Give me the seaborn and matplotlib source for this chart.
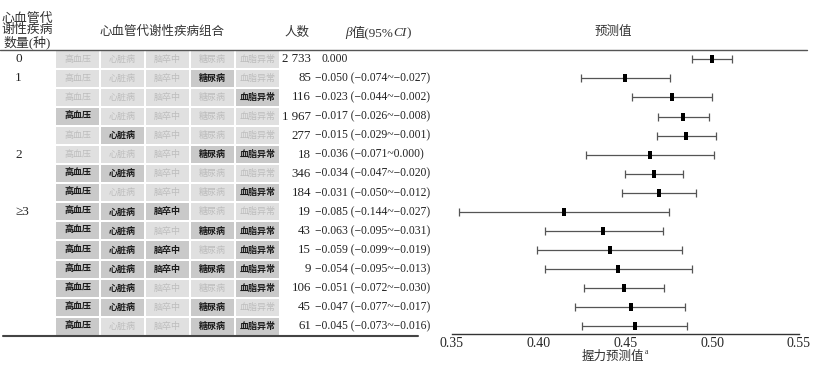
import numpy as np
import pandas as pd
import matplotlib
matplotlib.use("Agg")
import matplotlib.pyplot as plt
import seaborn as sns
from matplotlib.colors import ListedColormap
from matplotlib.lines import Line2D
from matplotlib.path import Path
from matplotlib.transforms import blended_transform_factory

sns.set_style("white")
plt.rcParams['font.family'] = ['Liberation Serif', 'Noto Sans CJK SC', 'DejaVu Sans']
plt.rcParams['axes.unicode_minus'] = True

# --- 数据 ---
diseases = ['高血压', '心脏病', '脑卒中', '糖尿病', '血脂异常']
group_labels = {0: '0', 1: '1', 5: '2', 8: '≥3'}
combos = [
    [0, 0, 0, 0, 0],
    [0, 0, 0, 1, 0],
    [0, 0, 0, 0, 1],
    [1, 0, 0, 0, 0],
    [0, 1, 0, 0, 0],
    [0, 0, 0, 1, 1],
    [1, 1, 0, 0, 0],
    [1, 0, 0, 0, 1],
    [1, 1, 1, 0, 0],
    [1, 1, 0, 1, 1],
    [1, 1, 1, 0, 1],
    [1, 1, 1, 1, 1],
    [1, 1, 0, 0, 1],
    [1, 1, 0, 1, 0],
    [1, 0, 0, 1, 1],
]
counts = [2733, 85, 116, 1967, 277, 18, 346, 184, 19, 43, 15, 9, 106, 45, 61]
beta = [0.000, -0.050, -0.023, -0.017, -0.015, -0.036, -0.034, -0.031,
        -0.085, -0.063, -0.059, -0.054, -0.051, -0.047, -0.045]
beta_low = [None, -0.074, -0.044, -0.026, -0.029, -0.071, -0.047, -0.050,
            -0.144, -0.095, -0.099, -0.095, -0.072, -0.077, -0.073]
beta_high = [None, -0.027, -0.002, -0.008, -0.001, 0.000, -0.020, -0.012,
             -0.027, -0.031, -0.019, -0.013, -0.030, -0.017, -0.016]
pred = [0.500, 0.450, 0.477, 0.4835, 0.4852, 0.4644, 0.4665, 0.4694,
        0.4146, 0.4373, 0.441, 0.446, 0.4494, 0.4531, 0.4554]
pred_low = [0.4885, 0.4243, 0.454, 0.469, 0.468, 0.4276, 0.450, 0.448,
            0.3544, 0.4035, 0.3994, 0.4035, 0.4262, 0.421, 0.4252]
pred_high = [0.5115, 0.4755, 0.500, 0.498, 0.5023, 0.5012, 0.4833, 0.4908,
             0.4752, 0.4719, 0.4827, 0.4885, 0.4724, 0.4845, 0.4857]
xticks = [0.35, 0.40, 0.45, 0.50, 0.55]

W, H = 822, 366
n_rows = len(counts)
row_top, row_bot = 49.8, 335.8


def fx(px):
    return px / W


def fy(py):
    return 1 - py / H


def fmt_num(v):
    return f"{v:.3f}".replace('-', '−')


def fmt_count(c):
    return f"{c:,}".replace(',', ' ')


fig = plt.figure(figsize=(W / 100, H / 100), dpi=100)

# --- 疾病组合表格 (heatmap) ---
ax_hm = fig.add_axes([fx(55), fy(row_bot), fx(225), (row_bot - row_top) / H])
combo_df = pd.DataFrame(combos, columns=diseases)
sns.heatmap(combo_df, ax=ax_hm, cmap=ListedColormap(['#e0e0e0', '#c9c9c9']),
            vmin=0, vmax=1, cbar=False, linewidths=1.2, linecolor='white',
            xticklabels=False, yticklabels=False)
for i, row in enumerate(combos):
    for j, on in enumerate(row):
        ax_hm.text(j + 0.5, i + 0.5, diseases[j], ha='center', va='center',
                   fontsize=6.5, color='#1a1a1a' if on else '#bdbdbd',
                   fontweight='bold' if on else 'normal')

# 文字列: x 用图坐标, y 用表格行坐标
tr = blended_transform_factory(fig.transFigure, ax_hm.transData)
for i in range(n_rows):
    if i in group_labels:
        fig.text(fx(15), i + 0.5, group_labels[i], transform=tr,
                 ha='left', va='center', fontsize=9.5, color='#222')
    fig.text(fx(311), i + 0.5, fmt_count(counts[i]), transform=tr,
             ha='right', va='center', fontsize=9.3, color='#222')
    if beta_low[i] is None:
        s = fmt_num(beta[i])
        x0 = 321
    else:
        s = f"{fmt_num(beta[i])} ({fmt_num(beta_low[i])}~{fmt_num(beta_high[i])})"
        x0 = 315
    fig.text(fx(x0), i + 0.5, s, transform=tr, ha='left', va='center',
             fontsize=8.4, color='#222')

# --- 表头 ---
fig.text(fx(27), fy(31), '心血管代\n谢性疾病\n数量(种)', ha='center', va='center',
         fontsize=9.3, linespacing=0.9, color='#333')
fig.text(fx(162), fy(32), '心血管代谢性疾病组合', ha='center', va='center',
         fontsize=9, color='#333')
fig.text(fx(297), fy(33), '人数', ha='center', va='center', fontsize=9, color='#333')
t = fig.text(fx(345), fy(33), 'β', ha='left', va='center', fontsize=9.5,
             style='italic', color='#333')
t = plt.annotate('值(95%', xy=(1, 0), xycoords=t, ha='left', va='bottom',
                 fontsize=9.5, color='#333')
t = plt.annotate('CI', xy=(1, 0), xycoords=t, ha='left', va='bottom',
                 fontsize=9.5, style='italic', color='#333')
plt.annotate(')', xy=(1, 0), xycoords=t, ha='left', va='bottom',
             fontsize=9.5, color='#333')
fig.text(fx(613), fy(32), '预测值', ha='center', va='center', fontsize=9, color='#333')

# --- 森林图 ---
px_per_unit = 86.8 / 0.05
ax_fp = fig.add_axes([fx(430), fy(row_bot), fx(380), (row_bot - row_top) / H])
ypos = np.arange(n_rows)
ax_fp.errorbar(pred, ypos,
               xerr=[np.array(pred) - np.array(pred_low), np.array(pred_high) - np.array(pred)],
               fmt='none', ecolor='#555555', elinewidth=0.9, capsize=2.6, capthick=0.9)
rect = Path([(-0.5, -1), (0.5, -1), (0.5, 1), (-0.5, 1), (-0.5, -1)],
            [Path.MOVETO, Path.LINETO, Path.LINETO, Path.LINETO, Path.CLOSEPOLY])
fp_df = pd.DataFrame({'pred': pred, 'row': ypos})
sns.scatterplot(data=fp_df, x='pred', y='row', ax=ax_fp, marker=rect, s=40,
                color='black', edgecolor='black', linewidth=0, zorder=3)
ax_fp.set_xlim(0.35 - 21.7 / px_per_unit, 0.35 + 358.3 / px_per_unit)
ax_fp.set_ylim(n_rows - 0.5, -0.5)
ax_fp.set_yticks([])
ax_fp.set_ylabel('')
ax_fp.set_xlabel('')
ax_fp.set_xticks(xticks)
ax_fp.set_xticklabels([f"{v:.2f}" for v in xticks], fontsize=9, color='#333')
for side in ['top', 'right', 'left']:
    ax_fp.spines[side].set_visible(False)
ax_fp.spines['bottom'].set_bounds(0.35, 0.55)
ax_fp.spines['bottom'].set_position(('data', n_rows - 0.59))
ax_fp.spines['bottom'].set_color('#333')
ax_fp.spines['bottom'].set_linewidth(1.0)
ax_fp.tick_params(axis='x', direction='in', length=4, width=0.9, color='#333', pad=2)
ax_fp.patch.set_alpha(0)

t = fig.text(fx(613), fy(357), '握力预测值', ha='center', va='center', fontsize=9,
             color='#333')
plt.annotate('a', xy=(1, 0.55), xycoords=t, ha='left', va='bottom',
             fontsize=5.5, color='#333')

# --- 横线 ---
fig.add_artist(Line2D([fx(0), fx(807)], [fy(50), fy(50)], color='#555555', lw=1.0))
fig.add_artist(Line2D([fx(3), fx(418)], [fy(335.5), fy(335.5)], color='#444444', lw=1.5))

fig.savefig('out.png', dpi=100)
